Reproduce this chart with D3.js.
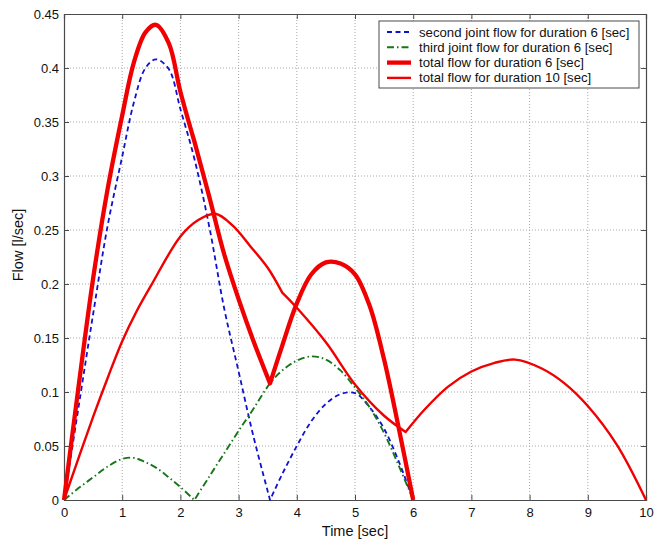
<html lang="en">
  <head>
    <meta charset="UTF-8" />
    <title>Flow vs time</title>
    <script src="https://d3js.org/d3.v7.min.js"></script>
  </head>
  <style>
    body {
      margin: 0px;
      overflow: hidden;
      background: #fff;
    }
    text {
      font-family: Arial, "Liberation Sans", sans-serif;
      fill: #111;
    }
  </style>
  <body>
    <svg width="662" height="541"></svg>
  </body>
  <footer>
    <script>
      // time samples for the 6 sec motion
      var time6 = [0, 0.25, 0.5, 0.75, 1.0, 1.2, 1.4, 1.58, 1.8, 2.0, 2.24, 2.5, 2.75, 3.0, 3.25, 3.54, 3.75, 4.0, 4.25, 4.5, 4.75, 5.0, 5.25, 5.5, 5.75, 6.0];
      var secondJoint6 = [0, 0.086, 0.172, 0.254, 0.318, 0.368, 0.400, 0.408, 0.399, 0.362, 0.316, 0.252, 0.178, 0.119, 0.060, 0, 0.024, 0.050, 0.073, 0.089, 0.098, 0.099, 0.086, 0.066, 0.036, 0];
      var thirdJoint6 = [0, 0.011, 0.021, 0.031, 0.038, 0.039, 0.035, 0.030, 0.021, 0.012, 0, 0.022, 0.043, 0.064, 0.084, 0.108, 0.120, 0.129, 0.133, 0.130, 0.120, 0.104, 0.086, 0.062, 0.032, 0];
      var total6 = [0, 0.105, 0.205, 0.288, 0.356, 0.405, 0.433, 0.440, 0.423, 0.378, 0.332, 0.280, 0.228, 0.186, 0.148, 0.108, 0.143, 0.182, 0.209, 0.220, 0.219, 0.209, 0.180, 0.130, 0.067, 0];

      // time samples for the 10 sec motion
      var time10 = [0, 0.5, 0.75, 1.0, 1.25, 1.5, 2.0, 2.3, 2.6, 2.9, 3.2, 3.5, 3.75, 4.0, 4.5, 5.0, 5.5, 5.87, 6.2, 6.6, 7.0, 7.4, 7.75, 8.2, 8.6, 9.0, 9.5, 10];
      var total10 = [0, 0.077, 0.113, 0.147, 0.175, 0.199, 0.244, 0.259, 0.265, 0.254, 0.235, 0.215, 0.192, 0.178, 0.146, 0.107, 0.078, 0.063, 0.084, 0.105, 0.119, 0.127, 0.130, 0.122, 0.108, 0.087, 0.051, 0];

      var xTicks = [0, 1, 2, 3, 4, 5, 6, 7, 8, 9, 10];
      var yTicks = [0, 0.05, 0.1, 0.15, 0.2, 0.25, 0.3, 0.35, 0.4, 0.45];
      var legendLabels = [
        "second joint flow for duration 6 [sec]",
        "third joint flow for duration 6 [sec]",
        "total flow for duration 6 [sec]",
        "total flow for duration 10 [sec]"
      ];

      var svg = d3.select("svg");
      var width = +svg.attr("width");
      var height = +svg.attr("height");
      var margin = { top: 14, right: 16, bottom: 41, left: 64 };
      var innerWidth = width - margin.left - margin.right;
      var innerHeight = height - margin.top - margin.bottom;

      var xScale = d3.scaleLinear().domain([0, 10]).range([0, innerWidth]);
      var yScale = d3.scaleLinear().domain([0, 0.45]).range([innerHeight, 0]);

      var g = svg
        .append("g")
        .attr("transform", `translate(${margin.left}, ${margin.top})`);

      // dotted grid
      g.append("g")
        .selectAll("line")
        .data(xTicks.slice(1, -1))
        .enter()
        .append("line")
        .attr("x1", (d) => xScale(d))
        .attr("x2", (d) => xScale(d))
        .attr("y1", 0)
        .attr("y2", innerHeight)
        .attr("stroke", "#a8a8a8")
        .attr("stroke-dasharray", "1,2");
      g.append("g")
        .selectAll("line")
        .data(yTicks.slice(1, -1))
        .enter()
        .append("line")
        .attr("x1", 0)
        .attr("x2", innerWidth)
        .attr("y1", (d) => yScale(d))
        .attr("y2", (d) => yScale(d))
        .attr("stroke", "#a8a8a8")
        .attr("stroke-dasharray", "1,2");

      // axes, matlab style: ticks inside, box all around
      var fmt = d3.format("~g");
      var axB = g.append("g")
        .attr("transform", `translate(0, ${innerHeight})`)
        .call(d3.axisBottom(xScale).tickValues(xTicks).tickFormat(fmt).tickSize(-5).tickPadding(8));
      var axL = g.append("g")
        .call(d3.axisLeft(yScale).tickValues(yTicks).tickFormat(fmt).tickSize(-5).tickPadding(5));
      var axT = g.append("g")
        .call(d3.axisTop(xScale).tickValues(xTicks).tickSize(-5));
      var axR = g.append("g")
        .attr("transform", `translate(${innerWidth}, 0)`)
        .call(d3.axisRight(yScale).tickValues(yTicks).tickSize(-5));
      axT.selectAll("text").remove();
      axR.selectAll("text").remove();
      [axB, axL, axT, axR].forEach(function (a) {
        a.selectAll("path, line").attr("stroke", "#4a4a4a");
        a.selectAll("text").attr("font-size", 13).attr("fill", "#111");
        a.select(".domain").attr("stroke-width", 1.2);
      });

      // split a series at its corners and smooth each piece
      function piecePath(ts, vs, cuts) {
        var line = d3.line()
          .x((d) => xScale(d[0]))
          .y((d) => yScale(d[1]))
          .curve(d3.curveCatmullRom.alpha(0.5));
        var pts = ts.map((t, i) => [t, vs[i]]);
        var idx = [0].concat(cuts.map((c) => ts.indexOf(c)), [ts.length - 1]);
        var out = "";
        for (var i = 0; i < idx.length - 1; i++) {
          var p = line(pts.slice(idx[i], idx[i + 1] + 1));
          out += i === 0 ? p : "L" + p.slice(1);
        }
        return out;
      }

      var styles = [
        { color: "#1010d0", width: 1.8, dash: "5,3.5" },
        { color: "#17761a", width: 1.9, dash: "7,3,1.5,3" },
        { color: "#f00000", width: 4.3, dash: null },
        { color: "#f00000", width: 2.4, dash: null }
      ];
      var series = [
        piecePath(time6, secondJoint6, [3.54]),
        piecePath(time6, thirdJoint6, [2.24]),
        piecePath(time6, total6, [2.24, 3.54]),
        piecePath(time10, total10, [3.75, 5.87])
      ];

      g.selectAll(".series")
        .data(series)
        .enter()
        .append("path")
        .attr("class", "series")
        .attr("d", (d) => d)
        .attr("fill", "none")
        .attr("stroke", (d, i) => styles[i].color)
        .attr("stroke-width", (d, i) => styles[i].width)
        .attr("stroke-dasharray", (d, i) => styles[i].dash)
        .attr("stroke-linejoin", "round");

      // axis titles
      svg.append("text")
        .attr("x", margin.left + innerWidth / 2)
        .attr("y", 536)
        .attr("text-anchor", "middle")
        .attr("font-size", 14.5)
        .text("Time [sec]");
      svg.append("text")
        .attr("transform", "translate(23, 245) rotate(-90)")
        .attr("text-anchor", "middle")
        .attr("font-size", 14.5)
        .text("Flow [l/sec]");

      // legend
      var lg = svg.append("g").attr("transform", "translate(379, 21)");
      lg.append("rect")
        .attr("width", 260)
        .attr("height", 67)
        .attr("fill", "#fff")
        .attr("stroke", "#4a4a4a");
      var rows = lg.selectAll(".row")
        .data(legendLabels)
        .enter()
        .append("g")
        .attr("transform", (d, i) => `translate(0, ${11 + i * 15.3})`);
      rows.append("line")
        .attr("x1", 8)
        .attr("x2", 32)
        .attr("stroke", (d, i) => styles[i].color)
        .attr("stroke-width", (d, i) => styles[i].width)
        .attr("stroke-dasharray", (d, i) => styles[i].dash);
      rows.append("text")
        .attr("x", 40)
        .attr("y", 4.5)
        .attr("font-size", 13.2)
        .text((d) => d);
    </script>
  </footer>
</html>
